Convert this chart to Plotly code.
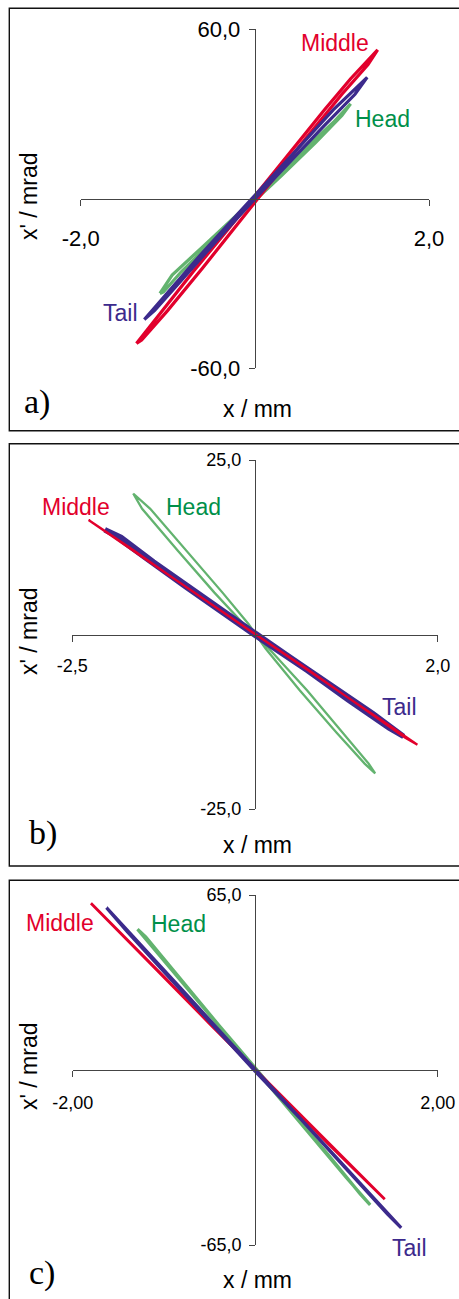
import plotly.graph_objects as go

W, H = 459, 1299

# ---------------- data ----------------
# Panel a
a_head_x = [-1.09, -0.95, -0.6, -0.2, 0.2, 0.6, 0.9, 1.10, 1.0, 0.7, 0.3, -0.1, -0.5, -0.85, -1.05, -1.09]
a_head_y = [-33.5, -27.0, -17.0, -5.5, 6.5, 18.5, 27.0, 33.6, 29.5, 20.0, 8.0, -3.5, -15.5, -26.0, -33.0, -33.5]
a_mid_x = [-1.36, -1.1, -0.7, -0.3, 0.0, 0.4, 0.8, 1.1, 1.41, 1.30, 1.0, 0.6, 0.2, -0.2, -0.6, -1.0, -1.30, -1.36]
a_mid_y = [-51.2, -41.0, -25.5, -10.5, 1.0, 16.0, 31.5, 42.5, 52.7, 47.5, 37.0, 22.0, 6.5, -9.0, -24.5, -39.5, -50.0, -51.2]
a_tail_x = [-1.27, -1.0, -0.6, -0.2, 0.1, 0.5, 0.9, 1.29, 1.15, 0.8, 0.4, 0.0, -0.4, -0.8, -1.15, -1.27]
a_tail_y = [-42.7, -33.0, -19.0, -5.5, 4.5, 18.0, 31.5, 43.0, 37.0, 26.0, 13.0, 0.0, -13.5, -27.5, -39.5, -42.7]

# Panel b
b_head_x = [-1.75, -1.64, -1.20, -0.75, -0.39, -0.08, 0.39, 0.83, 1.15, 1.23, 1.10, 0.75, 0.30, -0.12, -0.33, -0.65, -1.09, -1.54, -1.75]
b_head_y = [20.2, 18.0, 12.0, 6.0, 1.5, -2.0, -8.0, -14.0, -18.5, -19.9, -18.5, -14.0, -8.0, -2.0, 1.5, 6.0, 12.0, 18.0, 20.2]
b_tail_x = [-2.10, -1.9, -1.5, -1.0, -0.6, -0.25, 0.2, 0.7, 1.2, 1.58, 1.4, 0.9, 0.4, -0.1, -0.5, -1.1, -1.6, -2.0, -2.10]
b_tail_y = [15.0, 13.9, 10.4, 6.3, 2.9, 0.2, -3.4, -7.4, -11.3, -14.6, -13.4, -9.4, -5.2, -1.3, 1.9, 6.8, 11.0, 14.4, 15.0]
b_mid_x = [-2.30, -1.8, -1.2, -0.6, -0.25, 0.2, 0.8, 1.4, 1.75, 1.6, 1.0, 0.4, -0.2, -0.8, -1.4, -2.0, -2.30]
b_mid_y = [16.4, 12.5, 7.6, 2.8, 0.1, -3.5, -8.3, -13.0, -15.8, -14.8, -9.9, -5.0, -0.3, 4.4, 9.2, 14.0, 16.4]

# Panel c
c_head_x = [-1.29, -1.0, -0.6, -0.2, 0.2, 0.6, 1.0, 1.26, 1.15, 0.8, 0.4, 0.0, -0.4, -0.8, -1.2, -1.29]
c_head_y = [52.3, 40.6, 24.5, 8.3, -7.8, -23.8, -40.0, -50.1, -46.0, -31.5, -15.2, 0.8, 16.7, 33.0, 49.5, 52.3]
c_mid_x = [-1.80, -1.5, -1.0, -0.5, 0.0, 0.5, 1.0, 1.42, 1.3, 0.8, 0.3, -0.2, -0.7, -1.2, -1.6, -1.80]
c_mid_y = [61.9, 51.8, 34.6, 17.2, 0.3, -16.8, -33.8, -48.0, -44.0, -27.4, -10.3, 7.0, 24.0, 41.2, 55.0, 61.9]
c_tail_x = [-1.63, -1.3, -0.8, -0.3, 0.0, 0.4, 0.9, 1.3, 1.60, 1.45, 1.0, 0.5, 0.0, -0.5, -1.0, -1.4, -1.63]
c_tail_y = [60.3, 48.3, 29.8, 11.2, 0.2, -14.5, -32.8, -47.6, -58.6, -53.5, -36.7, -18.3, -0.5, 18.0, 36.6, 51.3, 60.3]

# axis ranges / ticks
a_xrange = [-2.0, 2.0]; a_yrange = [-60.0, 60.0]
b_xrange = [-2.5, 2.0]; b_yrange = [-25.0, 25.0]
c_xrange = [-2.0, 2.0]; c_yrange = [-65.0, 65.0]
a_xticks = ["-2,0", "2,0"]; a_yticks = ["-60,0", "60,0"]
b_xticks = ["-2,5", "2,0"]; b_yticks = ["-25,0", "25,0"]
c_xticks = ["-2,00", "2,00"]; c_yticks = ["-65,0", "65,0"]
b_cross_x = -0.25  # vertical axis crossing in panel b

# ---------------- styling ----------------
RED = "#E2002C"
PURPLE = "#3C2A8C"
GREEN_L = "#63B36F"
GREEN_T = "#00904A"
AXC = "#444444"
SANS = "Liberation Sans, Arial, sans-serif"
SERIF = "Liberation Serif, Times New Roman, serif"


def px(xp, yp):
    return xp / W, 1 - yp / H


fig = go.Figure()

panels = [
    dict(idx="", xr=a_xrange, yr=a_yrange, xt=a_xticks, yt=a_yticks, cross=0.0,
         xdom=(80.7, 429.0), ydom=(29.3, 368.3), tickfs=22, xstand=14,
         series=[(a_head_x, a_head_y, GREEN_L, 3.2), (a_mid_x, a_mid_y, RED, 3.2),
                 (a_tail_x, a_tail_y, PURPLE, 3.2)]),
    dict(idx="2", xr=b_xrange, yr=b_yrange, xt=b_xticks, yt=b_yticks, cross=b_cross_x,
         xdom=(72.3, 437.7), ydom=(460.0, 809.0), tickfs=18, xstand=9,
         series=[(b_head_x, b_head_y, GREEN_L, 2.3), (b_tail_x, b_tail_y, PURPLE, 5.5),
                 (b_mid_x, b_mid_y, RED, 2.2)]),
    dict(idx="3", xr=c_xrange, yr=c_yrange, xt=c_xticks, yt=c_yticks, cross=0.0,
         xdom=(72.7, 437.7), ydom=(895.0, 1245.0), tickfs=18, xstand=10,
         series=[(c_head_x, c_head_y, GREEN_L, 3.2), (c_mid_x, c_mid_y, RED, 2.8),
                 (c_tail_x, c_tail_y, PURPLE, 3.2)]),
]

layout = {}
for p in panels:
    i = p["idx"]
    xa, ya = "x" + i, "y" + i
    for sx, sy, col, w in p["series"]:
        fig.add_trace(go.Scatter(x=sx, y=sy, mode="lines", xaxis=xa, yaxis=ya,
                                 line=dict(color=col, width=w), hoverinfo="skip",
                                 showlegend=False))
    xd = (p["xdom"][0] / W, p["xdom"][1] / W)
    yd = (1 - p["ydom"][1] / H, 1 - p["ydom"][0] / H)
    ypos_paper = yd[0] + (0 - p["yr"][0]) / (p["yr"][1] - p["yr"][0]) * (yd[1] - yd[0])
    xpos_paper = xd[0] + (p["cross"] - p["xr"][0]) / (p["xr"][1] - p["xr"][0]) * (xd[1] - xd[0])
    layout["xaxis" + i] = dict(
        domain=list(xd), range=p["xr"], anchor="free", position=ypos_paper,
        automargin=False,
        showgrid=False, zeroline=False, showline=True, linecolor=AXC, linewidth=1.2,
        ticks="outside", ticklen=6, tickcolor=AXC, tickwidth=1.2,
        tickvals=p["xr"], ticktext=p["xt"], ticklabelstandoff=p["xstand"],
        tickfont=dict(family=SANS, size=p["tickfs"], color="#000"), fixedrange=True)
    layout["yaxis" + i] = dict(
        domain=list(yd), range=p["yr"], anchor="free", position=xpos_paper,
        automargin=False,
        showgrid=False, zeroline=False, showline=True, linecolor=AXC, linewidth=1.2,
        ticks="outside", ticklen=6, tickcolor=AXC, tickwidth=1.2,
        tickvals=p["yr"], ticktext=p["yt"], ticklabelstandoff=4,
        tickfont=dict(family=SANS, size=p["tickfs"], color="#000"), fixedrange=True)

ann = []


def label(text, xp, yp, color="#000", size=23, family=SANS, angle=0):
    x, y = px(xp, yp)
    ann.append(dict(text=text, x=x, y=y, xref="paper", yref="paper", showarrow=False,
                    xanchor="center", yanchor="middle", textangle=angle,
                    font=dict(family=family, size=size, color=color)))


# panel a
label("Middle", 335, 43, RED)
label("Head", 382, 119, GREEN_T)
label("Tail", 120, 313, PURPLE)
label("a)", 37, 402, size=34, family=SERIF)
label("x / mm", 257, 409)
label("x' / mrad", 29, 197, angle=-90)
# panel b
label("Middle", 76, 507, RED)
label("Head", 193, 507, GREEN_T)
label("Tail", 399, 707, PURPLE)
label("b)", 43, 833, size=34, family=SERIF)
label("x / mm", 257, 845)
label("x' / mrad", 29, 632, angle=-90)
# panel c
label("Middle", 60, 923, RED)
label("Head", 178, 924, GREEN_T)
label("Tail", 409, 1248, PURPLE)
label("c)", 42, 1273, size=34, family=SERIF)
label("x / mm", 257, 1280)
label("x' / mrad", 29, 1067, angle=-90)

# panel frames
shapes = []
for top, bot in [(8.3, 430.7), (443.7, 866.0), (880.3, 1310.0)]:
    x0, y1 = px(9.3, top)
    x1, y0 = px(470, bot)
    shapes.append(dict(type="rect", xref="paper", yref="paper", x0=x0, x1=x1, y0=y0, y1=y1,
                       line=dict(color="#111", width=1.4), fillcolor="rgba(0,0,0,0)", layer="below"))

fig.update_layout(width=W, height=H, margin=dict(l=0, r=0, t=0, b=0, pad=0, autoexpand=False),
                  paper_bgcolor="white", plot_bgcolor="white", showlegend=False,
                  annotations=ann, shapes=shapes, **layout)

fig.write_html("out.html", config={"displayModeBar": False},
               post_script="document.body.style.margin='0';document.body.style.overflow='hidden';")
